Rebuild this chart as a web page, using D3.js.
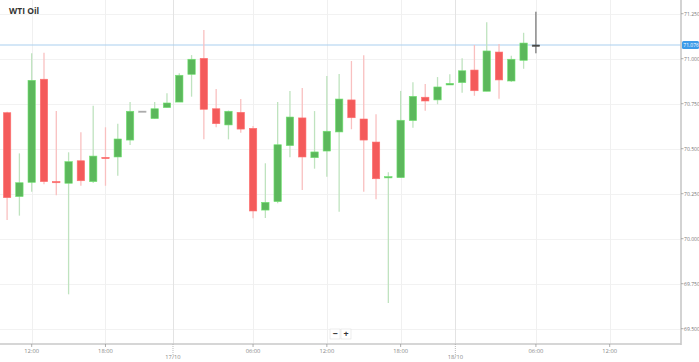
<!DOCTYPE html>
<html><head><meta charset="utf-8">
<script src="https://cdn.jsdelivr.net/npm/d3@7"></script>
<style>body{margin:0;background:#fff;}svg{display:block;font-family:"Open Sans",Arial,sans-serif;}</style>
</head><body>
<svg id="c" width="699" height="362"></svg>
<script>
const opens = [70.700,70.234,70.313,70.886,70.318,70.308,70.433,70.317,70.452,70.454,70.548,70.709,70.667,70.728,70.759,70.913,71.002,70.722,70.632,70.702,70.613,70.159,70.206,70.517,70.671,70.450,70.487,70.593,70.771,70.665,70.537,70.342,70.339,70.656,70.786,70.771,70.854,70.867,70.937,70.819,71.037,70.876,70.991,71.076];
const closes = [70.228,70.311,70.880,70.317,70.313,70.428,70.322,70.459,70.445,70.554,70.708,70.709,70.722,70.754,70.908,70.997,70.719,70.639,70.708,70.609,70.154,70.202,70.522,70.676,70.454,70.482,70.597,70.776,70.672,70.548,70.333,70.345,70.658,70.791,70.765,70.843,70.863,70.933,70.822,71.043,70.882,70.997,71.087,71.076];
const highs = [70.705,70.474,71.030,71.033,70.709,70.480,70.591,70.739,70.619,70.639,70.759,70.709,70.759,70.808,70.919,71.020,71.159,70.832,70.712,70.776,70.626,70.419,70.759,70.821,70.837,70.709,70.904,70.915,70.987,71.019,70.691,70.369,70.821,70.869,70.859,70.898,70.913,71.002,71.076,71.202,71.082,71.017,71.144,71.261];
const lows = [70.104,70.128,70.261,70.302,70.241,69.691,70.294,70.310,70.294,70.350,70.521,70.709,70.667,70.728,70.759,70.789,70.552,70.619,70.552,70.589,70.113,70.115,70.197,70.452,70.271,70.389,70.344,70.150,70.608,70.261,70.219,69.643,70.339,70.617,70.711,70.747,70.854,70.811,70.794,70.819,70.778,70.870,70.944,71.030];
const yTicks = [69.5,69.75,70.0,70.25,70.5,70.75,71.0,71.25];
const xTickPos = [2,8,13.49,20,26,32,36.45,43,49];
const xTickLabels = ["12:00","18:00","17/10","06:00","12:00","18:00","18/10","06:00","12:00"];
const xTickIsDate = [false,false,true,false,false,false,true,false,false];
const currentPrice = 71.076;
const title = "WTI Oil";

const svg = d3.select("#c");
const plotR = 681, plotB = 344;
const x = d3.scaleLinear().domain([0,49]).range([7.1,609.7]);
const y = d3.scaleLinear().domain([69.5,71.25]).range([328.7,13.7]);

// grid
const g = svg.append("g");
g.selectAll(".hg").data(yTicks).enter().append("line")
  .attr("x1",0).attr("x2",plotR).attr("y1",d=>Math.round(y(d))+0.5).attr("y2",d=>Math.round(y(d))+0.5)
  .attr("stroke","#f2f2f2").attr("stroke-width",1);
g.selectAll(".vg").data(xTickPos).enter().append("line")
  .attr("x1",d=>Math.round(x(d))+0.5).attr("x2",d=>Math.round(x(d))+0.5).attr("y1",0).attr("y2",plotB)
  .attr("stroke",(d,i)=>xTickIsDate[i]?"#e3e3e3":"#f0f0f0").attr("stroke-width",1);

// current price line
svg.append("line").attr("x1",0).attr("x2",plotR).attr("y1",y(currentPrice)).attr("y2",y(currentPrice))
  .attr("stroke","#a9cff0").attr("stroke-width",1.2);

// candles
const data = opens.map((o,i)=>({i,o,c:closes[i],h:highs[i],l:lows[i]}));
const last = data.length-1;
function body(d){ if(d.i===last) return "#444"; return d.c>d.o?"#5cb85c":(d.c<d.o?"#f45b5b":"#999"); }
function wick(d){ if(d.i===last) return "#555"; return d.c>d.o?"#bfe3bf":(d.c<d.o?"#f9c0c0":"#bbb"); }
const cg = svg.append("g");
cg.selectAll(".w").data(data).enter().append("line")
  .attr("x1",d=>x(d.i)).attr("x2",d=>x(d.i)).attr("y1",d=>y(d.h)).attr("y2",d=>y(d.l))
  .attr("stroke",wick).attr("stroke-width",d=>d.i===last?1:1.3);
const bw = 7.4;
cg.selectAll(".b").data(data).enter().append("rect")
  .attr("x",d=>x(d.i)-bw/2).attr("width",bw)
  .attr("y",d=>Math.min(y(d.o),y(d.c)))
  .attr("height",d=>Math.max(1.3,Math.abs(y(d.o)-y(d.c))))
  .attr("fill",body).attr("stroke",d=>d3.color(body(d)).brighter(0.6)).attr("stroke-width",0.6);

// axes lines
svg.append("line").attr("x1",plotR).attr("x2",plotR).attr("y1",0).attr("y2",plotB+1).attr("stroke","#c8c8c8").attr("stroke-width",1.6);
svg.append("line").attr("x1",0).attr("x2",plotR).attr("y1",plotB).attr("y2",plotB).attr("stroke","#c8c8c8").attr("stroke-width",1.6);

// y axis ticks/labels
const ya = svg.append("g");
yTicks.forEach(v=>{
  ya.append("line").attr("x1",plotR).attr("x2",plotR+2.5).attr("y1",y(v)).attr("y2",y(v)).attr("stroke","#999").attr("stroke-width",0.8);
  ya.append("text").attr("x",plotR+3).attr("y",y(v)+2).attr("font-size",5.1).attr("fill","#777").text(v.toFixed(3));
});
// current price label
const cy = y(currentPrice);
svg.append("rect").attr("x",plotR+1).attr("y",cy-4).attr("width",17).attr("height",8).attr("rx",1.5).attr("fill","#3d9be9");
svg.append("text").attr("x",plotR+2.3).attr("y",cy+2).attr("font-size",5).attr("fill","#fff").text(currentPrice.toFixed(3));

// x axis
const xa = svg.append("g");
xTickPos.forEach((p,i)=>{
  const px = x(p);
  if(xTickIsDate[i]){
    xa.append("line").attr("x1",px).attr("x2",px).attr("y1",plotB).attr("y2",plotB+11).attr("stroke","#aaa").attr("stroke-width",0.8).attr("stroke-dasharray","1,1");
    xa.append("text").attr("x",px).attr("y",plotB+15).attr("text-anchor","middle").attr("font-size",5.8).attr("fill","#888").text(xTickLabels[i]);
  } else {
    xa.append("line").attr("x1",px).attr("x2",px).attr("y1",plotB).attr("y2",plotB+3).attr("stroke","#999").attr("stroke-width",0.8);
    xa.append("text").attr("x",px).attr("y",plotB+9).attr("text-anchor","middle").attr("font-size",5.8).attr("fill","#888").text(xTickLabels[i]);
  }
});

// zoom buttons
const zb = svg.append("g");
[["−",335],["+",346]].forEach(([t,cx])=>{
  zb.append("rect").attr("x",cx-5).attr("y",329).attr("width",10).attr("height",10).attr("fill","#fff").attr("stroke","#e0e0e0").attr("stroke-width",0.6);
  zb.append("text").attr("x",cx).attr("y",337).attr("text-anchor","middle").attr("font-size",9).attr("font-weight","bold").attr("fill","#333").text(t);
});

// title
svg.append("text").attr("x",9).attr("y",14).attr("font-size",8.5).attr("font-weight","bold").attr("fill","#333").text(title);
</script>
</body></html>
